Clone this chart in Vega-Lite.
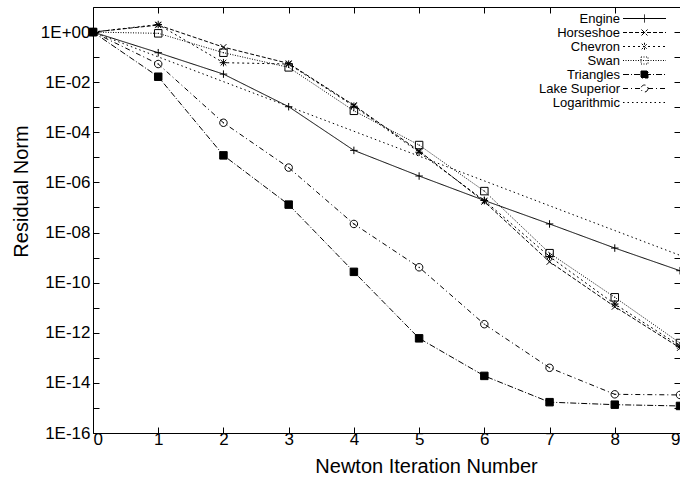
{
  "$schema": "https://vega.github.io/schema/vega-lite/v6.json",
  "autosize": "none",
  "padding": {"left": 93, "top": 7, "right": 0, "bottom": 47},
  "width": 587,
  "height": 426,
  "config": {
    "view": {"stroke": "black", "strokeWidth": 1},
    "font": "Liberation Sans",
    "axis": {"grid": false, "domain": false, "tickColor": "black", "labelColor": "black", "titleColor": "black", "labelFont": "Liberation Sans", "titleFont": "Liberation Sans", "titleFontWeight": "normal", "labelFontSize": 17, "titleFontSize": 20, "tickSize": -6, "tickWidth": 1}
  },
  "data": {"values": [
    {"series": "Engine", "x": 0, "y": 1}, {"series": "Engine", "x": 1, "y": 0.15}, {"series": "Engine", "x": 2, "y": 0.021}, {"series": "Engine", "x": 3, "y": 0.00105}, {"series": "Engine", "x": 4, "y": 1.9e-5}, {"series": "Engine", "x": 5, "y": 1.8e-6}, {"series": "Engine", "x": 6, "y": 1.9e-7}, {"series": "Engine", "x": 7, "y": 2.2e-8}, {"series": "Engine", "x": 8, "y": 2.4e-9}, {"series": "Engine", "x": 9, "y": 3e-10},
    {"series": "Horseshoe", "x": 0, "y": 1}, {"series": "Horseshoe", "x": 1, "y": 1.9}, {"series": "Horseshoe", "x": 2, "y": 0.25}, {"series": "Horseshoe", "x": 3, "y": 0.056}, {"series": "Horseshoe", "x": 4, "y": 0.0012}, {"series": "Horseshoe", "x": 5, "y": 1.8e-5}, {"series": "Horseshoe", "x": 6, "y": 1.7e-7}, {"series": "Horseshoe", "x": 7, "y": 6.8e-10}, {"series": "Horseshoe", "x": 8, "y": 1.1e-11}, {"series": "Horseshoe", "x": 9, "y": 2.5e-13},
    {"series": "Chevron", "x": 0, "y": 1}, {"series": "Chevron", "x": 1, "y": 2.0}, {"series": "Chevron", "x": 2, "y": 0.06}, {"series": "Chevron", "x": 3, "y": 0.053}, {"series": "Chevron", "x": 4, "y": 0.0011}, {"series": "Chevron", "x": 5, "y": 1.6e-5}, {"series": "Chevron", "x": 6, "y": 1.9e-7}, {"series": "Chevron", "x": 7, "y": 1.1e-9}, {"series": "Chevron", "x": 8, "y": 1.4e-11}, {"series": "Chevron", "x": 9, "y": 3e-13},
    {"series": "Swan", "x": 0, "y": 1}, {"series": "Swan", "x": 1, "y": 0.89}, {"series": "Swan", "x": 2, "y": 0.15}, {"series": "Swan", "x": 3, "y": 0.039}, {"series": "Swan", "x": 4, "y": 0.00072}, {"series": "Swan", "x": 5, "y": 3.1e-5}, {"series": "Swan", "x": 6, "y": 4.5e-7}, {"series": "Swan", "x": 7, "y": 1.5e-9}, {"series": "Swan", "x": 8, "y": 2.6e-11}, {"series": "Swan", "x": 9, "y": 3.9e-13},
    {"series": "Triangles", "x": 0, "y": 1}, {"series": "Triangles", "x": 1, "y": 0.0165}, {"series": "Triangles", "x": 2, "y": 1.2e-5}, {"series": "Triangles", "x": 3, "y": 1.3e-7}, {"series": "Triangles", "x": 4, "y": 2.7e-10}, {"series": "Triangles", "x": 5, "y": 6e-13}, {"series": "Triangles", "x": 6, "y": 1.9e-14}, {"series": "Triangles", "x": 7, "y": 1.7e-15}, {"series": "Triangles", "x": 8, "y": 1.35e-15}, {"series": "Triangles", "x": 9, "y": 1.2e-15},
    {"series": "Lake Superior", "x": 0, "y": 1}, {"series": "Lake Superior", "x": 1, "y": 0.053}, {"series": "Lake Superior", "x": 2, "y": 0.00024}, {"series": "Lake Superior", "x": 3, "y": 3.9e-6}, {"series": "Lake Superior", "x": 4, "y": 2.2e-8}, {"series": "Lake Superior", "x": 5, "y": 4.1e-10}, {"series": "Lake Superior", "x": 6, "y": 2.2e-12}, {"series": "Lake Superior", "x": 7, "y": 4e-14}, {"series": "Lake Superior", "x": 8, "y": 3.5e-15}, {"series": "Lake Superior", "x": 9, "y": 3.3e-15},
    {"series": "Logarithmic", "x": 0, "y": 1}, {"series": "Logarithmic", "x": 1, "y": 0.102}, {"series": "Logarithmic", "x": 2, "y": 0.0105}, {"series": "Logarithmic", "x": 3, "y": 0.00107}, {"series": "Logarithmic", "x": 4, "y": 0.00011}, {"series": "Logarithmic", "x": 5, "y": 1.12e-5}, {"series": "Logarithmic", "x": 6, "y": 1.15e-6}, {"series": "Logarithmic", "x": 7, "y": 1.17e-7}, {"series": "Logarithmic", "x": 8, "y": 1.2e-8}, {"series": "Logarithmic", "x": 9, "y": 1.23e-9}
  ]},
  "resolve": {"axis": {"x": "independent", "y": "independent"}},
  "layer": [
    {
      "mark": {"type": "line", "color": "black", "strokeWidth": 1},
      "encoding": {
        "x": {"field": "x", "type": "quantitative", "scale": {"domain": [0, 9], "nice": false, "zero": false},
              "axis": {"orient": "bottom", "values": [0,1,2,3,4,5,6,7,8,9], "title": "Newton Iteration Number", "labelPadding": 4,
                       "titleX": 333, "titleY": 39, "titleBaseline": "alphabetic", "titleAlign": "center", "titleAnchor": null}},
        "y": {"field": "y", "type": "quantitative", "scale": {"type": "log", "domain": [1e-16, 10], "nice": false},
              "axis": {"orient": "left", "values": [1e-16,1e-15,1e-14,1e-13,1e-12,1e-11,1e-10,1e-9,1e-8,1e-7,1e-6,1e-5,1e-4,1e-3,1e-2,1e-1,1],
                       "labelExpr": "(round(log(datum.value)/LN10) % 2 != 0) ? '' : (round(log(datum.value)/LN10) >= 0 ? '1E+00' : (round(log(datum.value)/LN10) > -10 ? '1E-0' + (-round(log(datum.value)/LN10)) : '1E-' + (-round(log(datum.value)/LN10))))",
                       "title": "Residual Norm", "labelPadding": 9,
                       "titleX": -66, "titleY": 184, "titleBaseline": "alphabetic", "titleAlign": "center", "titleAngle": -90, "titleAnchor": null}},
        "strokeDash": {"field": "series", "type": "nominal",
          "scale": {"domain": ["Engine", "Horseshoe", "Chevron", "Swan", "Triangles", "Lake Superior", "Logarithmic"],
                    "range": [[1, 0], [4, 2], [2, 3], [1, 1.5], [6, 2, 1, 2], [5, 3, 1, 3], [1.5, 3]]},
          "legend": {
            "title": null, "orient": "none", "legendX": 545, "legendY": 5,
            "padding": 0, "rowPadding": -1.3,
            "labelAlign": "right", "labelOffset": -31, "labelFontSize": 13, "labelFont": "Liberation Sans", "labelColor": "black",
            "symbolSize": 100, "symbolStrokeWidth": 1, "symbolStrokeColor": "black",
            "encode": {"symbols": {"update": {
              "shape": {"signal": "datum.value == 'Engine' ? 'M-4.3,0L4.3,0M0,-0.8L0,0.8' : datum.value == 'Horseshoe' ? 'M-4.3,0L4.3,0M-0.6,-0.6L0.6,0.6M-0.6,0.6L0.6,-0.6' : datum.value == 'Chevron' ? 'M-4.3,0L4.3,0M0,-0.75L0,0.75M-0.55,-0.55L0.55,0.55M-0.55,0.55L0.55,-0.55' : datum.value == 'Swan' ? 'M-4.3,0L4.3,0M-0.7,-0.7L0.7,-0.7L0.7,0.7L-0.7,0.7Z' : datum.value == 'Triangles' ? 'M-4.3,0L4.3,0M-0.7,-0.7L0.7,-0.7L0.7,0.7L-0.7,0.7Z' : datum.value == 'Lake Superior' ? 'M-4.3,0L-0.7,0M0.7,0L4.3,0M0.7,0A0.7,0.7,0,1,1,-0.7,0A0.7,0.7,0,1,1,0.7,0Z' : 'M-4.3,0L4.3,0'"},
              "fill": {"signal": "datum.value == 'Triangles' ? 'black' : 'transparent'"},
              "stroke": {"value": "black"}
            }}}
          }
        }
      }
    },
    {
      "transform": [{"filter": "datum.series != 'Logarithmic'"}],
      "mark": {"type": "point", "stroke": "black", "strokeWidth": 1, "opacity": 1, "size": 56},
      "encoding": {
        "x": {"field": "x", "type": "quantitative", "scale": {"domain": [0, 9], "nice": false, "zero": false},
              "axis": {"orient": "top", "values": [0,1,2,3,4,5,6,7,8,9], "labels": false, "title": null}},
        "y": {"field": "y", "type": "quantitative", "scale": {"type": "log", "domain": [1e-16, 10], "nice": false},
              "axis": {"orient": "right", "values": [1e-16,1e-15,1e-14,1e-13,1e-12,1e-11,1e-10,1e-9,1e-8,1e-7,1e-6,1e-5,1e-4,1e-3,1e-2,1e-1,1], "labels": false, "title": null}},
        "shape": {"field": "series", "type": "nominal", "legend": null,
          "scale": {"domain": ["Engine", "Horseshoe", "Chevron", "Swan", "Triangles", "Lake Superior"],
                    "range": ["M-1,0L1,0M0,-1L0,1", "M-0.8,-0.8L0.8,0.8M-0.8,0.8L0.8,-0.8", "M-1,0L1,0M0,-1L0,1M-0.75,-0.75L0.75,0.75M-0.75,0.75L0.75,-0.75", "M-1,-1L1,-1L1,1L-1,1ZM-0.15,0L0.15,0", "square", "M1,0A1,1,0,1,1,-1,0A1,1,0,1,1,1,0ZM-0.15,0L0.15,0"]}},
        "fill": {"field": "series", "type": "nominal", "legend": null,
          "scale": {"domain": ["Engine", "Horseshoe", "Chevron", "Swan", "Triangles", "Lake Superior"],
                    "range": ["transparent", "transparent", "transparent", "transparent", "black", "transparent"]}}
      }
    }
  ]
}
